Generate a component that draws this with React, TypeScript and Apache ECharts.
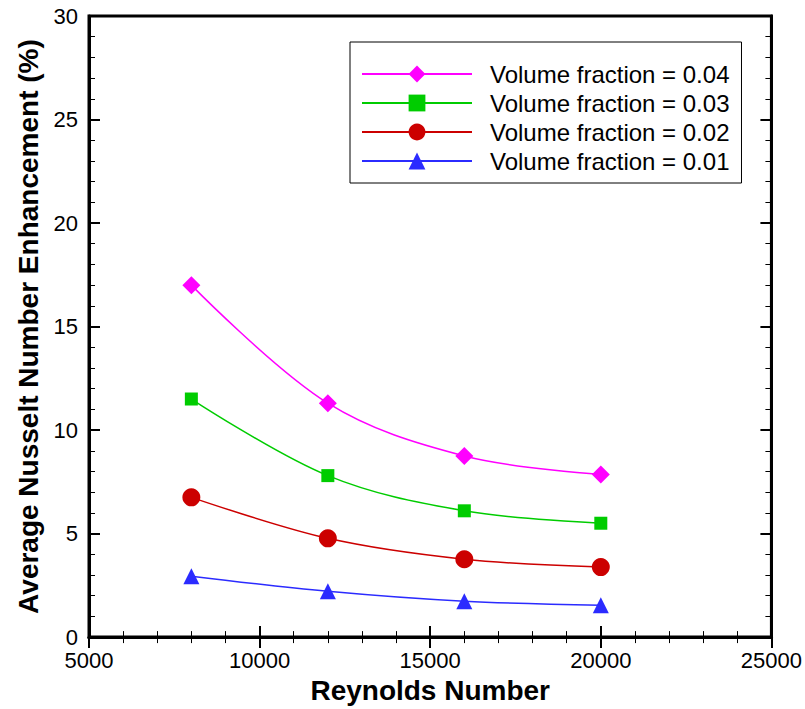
import React, { useEffect, useRef } from "react";
import * as echarts from "echarts";

const reynolds = [8000, 12000, 16000, 20000];
const vf004 = [17.0, 11.3, 8.75, 7.85];
const vf003 = [11.5, 7.8, 6.1, 5.5];
const vf002 = [6.75, 4.77, 3.76, 3.38];
const vf001 = [2.94, 2.21, 1.73, 1.54];
const seriesNames = [
  "Volume fraction = 0.04",
  "Volume fraction = 0.03",
  "Volume fraction = 0.02",
  "Volume fraction = 0.01",
];
const yTicks = [0, 5, 10, 15, 20, 25, 30];

const pair = (ys: number[]) => reynolds.map((x, i) => [x, ys[i]]);

export default function App() {
  const ref = useRef<HTMLDivElement>(null);
  useEffect(() => {
    const chart = echarts.init(ref.current!, undefined, { renderer: "svg" });
    const tick = { show: true, inside: true, length: 11, lineStyle: { color: "#000", width: 2 } };
    const minor = { show: true, splitNumber: 5, length: 6, lineStyle: { color: "#000", width: 1 } };
    const mk = (name: string, data: number[], color: string, symbol: string, size: number) => ({
      name,
      type: "line",
      data: pair(data),
      smooth: 0.35,
      symbol,
      symbolSize: size,
      showSymbol: true,
      lineStyle: { color, width: 1.5 },
      itemStyle: { color },
      xAxisIndex: 0,
      yAxisIndex: 0,
    });
    chart.setOption({
      animation: false,
      grid: {
        left: 89,
        right: 26,
        top: 16,
        bottom: 69,
        show: true,
        borderColor: "#000",
        borderWidth: 3,
      },
      legend: {
        orient: "vertical",
        left: 350,
        top: 42,
        itemWidth: 110,
        itemHeight: 21,
        itemGap: 5,
        padding: [20, 12, 10, 11],
        borderColor: "#000",
        borderWidth: 1,
        backgroundColor: "#fff",
        data: seriesNames,
        textStyle: {
          fontFamily: "Liberation Sans, Arial, sans-serif",
          fontSize: 24,
          lineHeight: 24,
          color: "#000",
          padding: [0, 0, 0, 13],
        },
      },
      xAxis: [
        {
          type: "value",
          min: 5000,
          max: 25000,
          interval: 5000,
          position: "bottom",
          name: "Reynolds Number",
          nameLocation: "middle",
          nameGap: 38,
          nameTextStyle: {
            fontFamily: "Liberation Sans, Arial, sans-serif",
            fontWeight: "bold",
            fontSize: 28,
            color: "#000",
          },
          axisLine: { show: true, lineStyle: { color: "#000", width: 3 } },
          axisTick: tick,
          minorTick: minor,
          splitLine: { show: false },
          axisLabel: {
            fontFamily: "Liberation Sans, sans-serif",
            fontSize: 22,
            color: "#000",
            margin: 12,
            formatter: (v: number) => String(v),
          },
        },
        {
          type: "value",
          min: 5000,
          max: 25000,
          interval: 5000,
          position: "top",
          axisLine: { show: true, lineStyle: { color: "#000", width: 3 } },
          axisTick: tick,
          minorTick: minor,
          splitLine: { show: false },
          axisLabel: { show: false },
        },
      ],
      yAxis: [
        {
          type: "value",
          min: 0,
          max: 30,
          interval: 5,
          position: "left",
          name: "Average Nusselt Number Enhancement (%)",
          nameLocation: "middle",
          nameGap: 44,
          nameTextStyle: {
            fontFamily: "Liberation Sans, Arial, sans-serif",
            fontWeight: "bold",
            fontSize: 28,
            color: "#000",
          },
          axisLine: { show: true, lineStyle: { color: "#000", width: 3 } },
          axisTick: tick,
          minorTick: minor,
          splitLine: { show: false },
          axisLabel: {
            fontFamily: "Liberation Sans, Arial, sans-serif",
            fontSize: 22,
            color: "#000",
            margin: 11,
            formatter: (v: number) => (yTicks.includes(v) ? String(v) : ""),
          },
        },
        {
          type: "value",
          min: 0,
          max: 30,
          interval: 5,
          position: "right",
          axisLine: { show: true, lineStyle: { color: "#000", width: 3 } },
          axisTick: tick,
          minorTick: minor,
          splitLine: { show: false },
          axisLabel: { show: false },
        },
      ],
      series: [
        mk(seriesNames[0], vf004, "#ff00ff", "diamond", 18),
        mk(seriesNames[1], vf003, "#00cc00", "rect", 13),
        mk(seriesNames[2], vf002, "#cc0000", "circle", 18),
        mk(seriesNames[3], vf001, "#2b2bff", "triangle", 16),
      ],
    });
    return () => chart.dispose();
  }, []);
  return (
    <div
      ref={ref}
      style={{ position: "absolute", left: 0, top: 0, width: 805, height: 709, background: "#fff" }}
    />
  );
}
